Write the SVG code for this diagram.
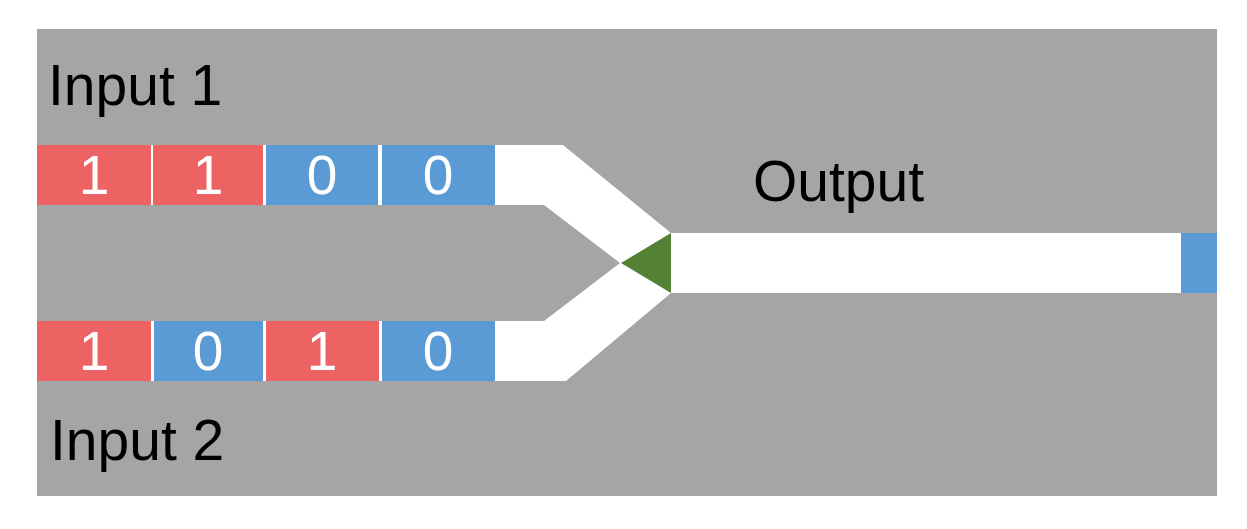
<svg xmlns="http://www.w3.org/2000/svg" width="1247" height="529" viewBox="0 0 1247 529">
<style>
.lbl{font-family:"Liberation Sans",Arial,sans-serif;font-size:57px;fill:#000}
.bit{font-family:"Liberation Sans",Arial,sans-serif;font-size:55px;fill:#fff;text-anchor:middle}
.ch{fill:#fff}
.r{fill:#ed6262}
.b{fill:#5b9bd5}
</style>
<rect x="0" y="0" width="1247" height="529" fill="#fff"/>
<rect id="background" x="37" y="29" width="1180" height="467" fill="#a5a5a5"/>
<g id="connectors">
<polygon class="ch" points="37,145 563,145 671,233 671,293 566,381 37,381 37,321 544,321 620,263 544,205 37,205"/>
<rect class="ch" x="671" y="233" width="510" height="60"/>
</g>
<g id="combiner"><polygon points="621,263 671,233 671,293" fill="#548235"/></g>
<g id="input1-bits">
<rect class="r" x="37" y="145" width="114" height="60"/>
<rect class="r" x="153" y="145" width="110" height="60"/>
<rect class="b" x="266" y="145" width="112" height="60"/>
<rect class="b" x="382" y="145" width="113" height="60"/>
<text class="bit" x="94" y="194">1</text>
<text class="bit" x="208" y="194">1</text>
<text class="bit" x="322" y="194">0</text>
<text class="bit" x="438" y="194">0</text>
</g>
<g id="input2-bits">
<rect class="r" x="37" y="321" width="114" height="60"/>
<rect class="b" x="154" y="321" width="109" height="60"/>
<rect class="r" x="266" y="321" width="113" height="60"/>
<rect class="b" x="382" y="321" width="113" height="60"/>
<text class="bit" x="94" y="370">1</text>
<text class="bit" x="208" y="370">0</text>
<text class="bit" x="322" y="370">1</text>
<text class="bit" x="438" y="370">0</text>
</g>
<g id="output-bit"><rect class="b" x="1181" y="233" width="36" height="60"/></g>
<g id="label-input1"><text class="lbl" x="48" y="105">Input 1</text></g>
<g id="label-input2"><text class="lbl" x="50" y="460">Input 2</text></g>
<g id="label-output"><text class="lbl" x="753" y="201">Output</text></g>
</svg>
